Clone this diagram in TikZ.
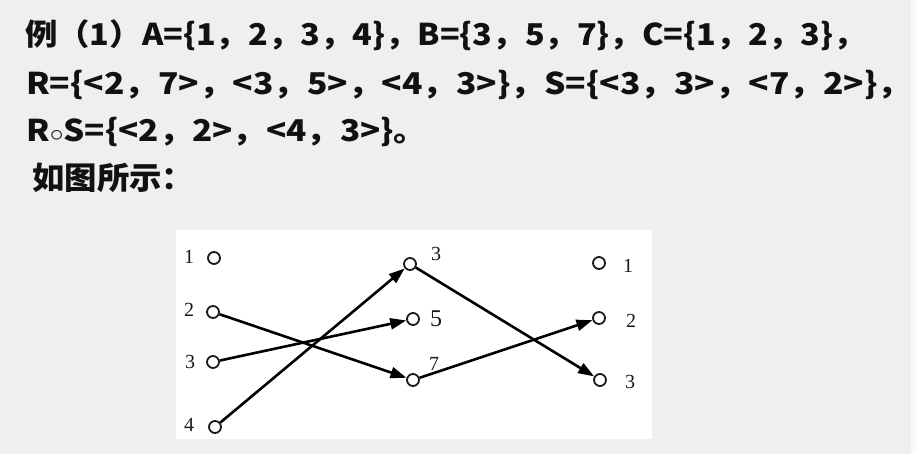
\documentclass[tikz,border=0pt]{standalone}
\usepackage{fontspec}
\usepackage{graphicx}
\usetikzlibrary{arrows.meta}
\newfontfamily\cjk{Noto Sans CJK SC}
\newfontfamily\serifd{Liberation Serif}
\definecolor{bgc}{HTML}{EFEFEF}
\definecolor{ink}{HTML}{111111}
\definecolor{dk}{HTML}{1A1A1A}
\tikzset{
  txt/.style={anchor=base west, inner sep=0pt, text=ink, font=\cjk\bfseries\fontsize{30}{30}\selectfont},
  dot/.style={circle, draw=dk, fill=white, line width=1.8pt, minimum size=12pt, inner sep=0pt},
  lbl/.style={inner sep=0pt, text=dk, font=\serifd\fontsize{20}{20}\selectfont},
  arr/.style={draw=black, line width=2.6pt, -{Triangle[length=16pt,width=11pt]}}
}
\begin{document}
\begin{tikzpicture}[x=1pt,y=-1pt]
\useasboundingbox (0,0) rectangle (916,454);
\fill[bgc] (0,0) rectangle (916,454);
\fill[white!60!bgc] (911,0) rectangle (916,454);
\fill[white] (176,230) rectangle (652,439);
\node[txt] (l1) at (25,46) {\scalebox{1.08}[1]{例（1）A=\{1，2，3，4\}，B=\{3，5，7\}，C=\{1，2，3\}，}};
\node[txt] (l2) at (26,95) {\scalebox{1.12}[1]{R=\{<2，7>，<3，5>，<4，3>\}，S=\{<3，3>，<7，2>\}，}};
\node[txt] (l3) at (26,142) {\scalebox{1.11}[1]{R$\circ$S=\{<2，2>，<4，3>\}。}};
\node[txt] (l4) at (32,190) {\scalebox{1.08}[1.04]{如图所示：}};
% left column
\node[dot] (a1) at (214,258) {};
\node[dot] (a2) at (213,312) {};
\node[dot] (a3) at (213,362) {};
\node[dot] (a4) at (215,427) {};
\node[lbl] (la1) at (189,257) {1};
\node[lbl] (la2) at (189,310) {2};
\node[lbl] (la3) at (190,362) {3};
\node[lbl] (la4) at (189,425) {4};
% middle column
\node[dot] (b3) at (410,264) {};
\node[dot] (b5) at (413,319) {};
\node[dot] (b7) at (413,380) {};
\node[lbl] (lb3) at (436,254) {3};
\node[lbl, font=\serifd\fontsize{24}{24}\selectfont] (lb5) at (436,319) {5};
\node[lbl] (lb7) at (434,364) {7};
% right column
\node[dot] (c1) at (599,263) {};
\node[dot] (c2) at (599,318) {};
\node[dot] (c3) at (600,380) {};
\node[lbl] (lc1) at (628,266) {1};
\node[lbl] (lc2) at (631,321) {2};
\node[lbl] (lc3) at (630,382) {3};
% arrows
\draw[arr] (a2) -- (b7);
\draw[arr] (a3) -- (b5);
\draw[arr] (a4) -- (b3);
\draw[arr] (b3) -- (c3);
\draw[arr] (b7) -- (c2);
\end{tikzpicture}
\end{document}
